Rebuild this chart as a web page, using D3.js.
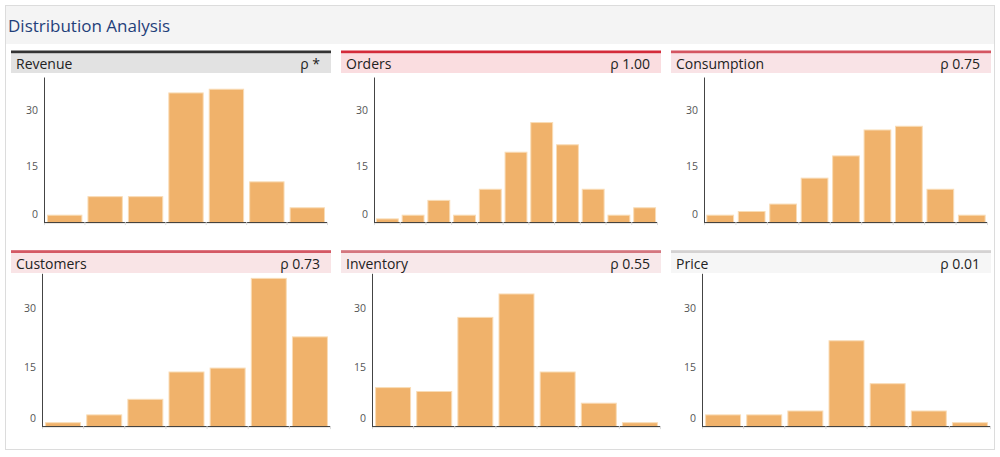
<!DOCTYPE html>
<html>
<head>
<meta charset="utf-8">
<script src="https://cdn.jsdelivr.net/npm/d3@7/dist/d3.min.js"></script>
<style>
  html, body { margin: 0; padding: 0; background: #fff; }
  svg { display: block; font-family: "Open Sans", sans-serif; }
</style>
</head>
<body>
<svg id="chart" width="1000" height="457"></svg>
<script>
// ---- data ----
const chartTitle = "Distribution Analysis";
const panelNames = ["Revenue", "Orders", "Consumption", "Customers", "Inventory", "Price"];
const rhoLabels = ["ρ *", "ρ 1.00", "ρ 0.75", "ρ 0.73", "ρ 0.55", "ρ 0.01"];
const rhoValues = [null, 1.00, 0.75, 0.73, 0.55, 0.01];
const revenueCounts = [2, 7, 7, 35, 36, 11, 4];
const ordersCounts = [1, 2, 6, 2, 9, 19, 27, 21, 9, 2, 4];
const consumptionCounts = [2, 3, 5, 12, 18, 25, 26, 9, 2];
const customersCounts = [1, 3, 7, 14, 15, 38, 23];
const inventoryCounts = [10, 9, 28, 34, 14, 6, 1];
const priceCounts = [3, 3, 4, 22, 11, 4, 1];
const yTicks = [0, 15, 30];
const yDomainMax = 39.3;

const allCounts = [revenueCounts, ordersCounts, consumptionCounts, customersCounts, inventoryCounts, priceCounts];

// ---- layout ----
const svg = d3.select("#chart");
const panelX = [11, 341, 671];
const panelW = 320;
const rows = [
  { barY: 50.5, bgY: 53.5, bgH: 19.5, textY: 68.5, plotTop: 77, plotZero: 222.6, left: 33, right: 316 },
  { barY: 250.2, bgY: 253.2, bgH: 19.8, textY: 268.5, plotTop: 273.3, plotZero: 426.6, left: 31, right: 319 }
];

// container
svg.append("rect").attr("x", 5.5).attr("y", 5.5).attr("width", 989).attr("height", 444)
  .attr("fill", "#fff").attr("stroke", "#dcdcdc");
svg.append("rect").attr("x", 6).attr("y", 6).attr("width", 988).attr("height", 38)
  .attr("fill", "#f4f4f4");
svg.append("text").attr("x", 8).attr("y", 31.5).attr("fill", "#1f3f7a")
  .attr("font-size", 17).text(chartTitle);

const topColor = d3.scaleLinear().domain([0, 1]).range(["#d4d4d4", "#d42a3a"]).interpolate(d3.interpolateRgb);
const bgColor = d3.scaleLinear().domain([0, 1]).range(["#f6f6f6", "#fadde0"]).interpolate(d3.interpolateRgb);

panelNames.forEach((name, i) => {
  const r = rows[Math.floor(i / 3)];
  const px = panelX[i % 3];
  const counts = allCounts[i];
  const rho = rhoValues[i];
  const g = svg.append("g");

  // header
  g.append("rect").attr("x", px).attr("y", r.barY).attr("width", panelW).attr("height", 3)
    .attr("fill", rho === null ? "#333333" : topColor(rho));
  g.append("rect").attr("x", px).attr("y", r.bgY).attr("width", panelW).attr("height", r.bgH)
    .attr("fill", rho === null ? "#e2e2e2" : bgColor(rho));
  g.append("text").attr("x", px + 5).attr("y", r.textY).attr("font-size", 14).attr("fill", "#222")
    .text(name);
  g.append("text").attr("x", px + panelW - 11).attr("y", r.textY).attr("font-size", 14).attr("fill", "#222")
    .attr("text-anchor", "end").text(rhoLabels[i]);

  // scales
  const x0 = px + r.left, x1 = px + r.right;
  const xBand = d3.scaleBand().domain(d3.range(counts.length)).range([x0, x1])
    .paddingInner(0.15).paddingOuter(0.075);
  const xLin = d3.scaleLinear().domain([0, counts.length]).range([x0, x1]);
  const y = d3.scaleLinear().domain([0, yDomainMax]).range([r.plotZero, r.plotTop]);

  // bars
  g.append("g").selectAll("rect").data(counts).join("rect")
    .attr("x", (d, j) => xBand(j) + 0.5)
    .attr("width", xBand.bandwidth())
    .attr("y", d => y(d))
    .attr("height", d => y(0) - y(d))
    .attr("fill", "#f0b26b")
    .attr("stroke", "#f9dcb6")
    .attr("stroke-width", 1);

  // x axis
  const xAxis = g.append("g").attr("transform", `translate(0,${r.plotZero - 0.5})`)
    .call(d3.axisBottom(xLin).tickValues(d3.range(counts.length + 1)).tickSize(3).tickSizeOuter(0).tickFormat(""));
  xAxis.select(".domain").attr("stroke", "#333");
  xAxis.selectAll(".tick line").attr("stroke", "#dddddd");

  // y axis
  const yAxis = g.append("g").attr("transform", `translate(${x0},0)`)
    .call(d3.axisLeft(y).tickValues(yTicks).tickSize(0).tickSizeOuter(0).tickPadding(6));
  yAxis.select(".domain").attr("stroke", "#444");
  yAxis.selectAll(".tick text")
    .attr("font-family", "Open Sans, sans-serif")
    .attr("font-size", 10.5)
    .attr("fill", "#555")
    .attr("dy", d => d === 0 ? "-0.5em" : "0.2em");
});
</script>
</body>
</html>
